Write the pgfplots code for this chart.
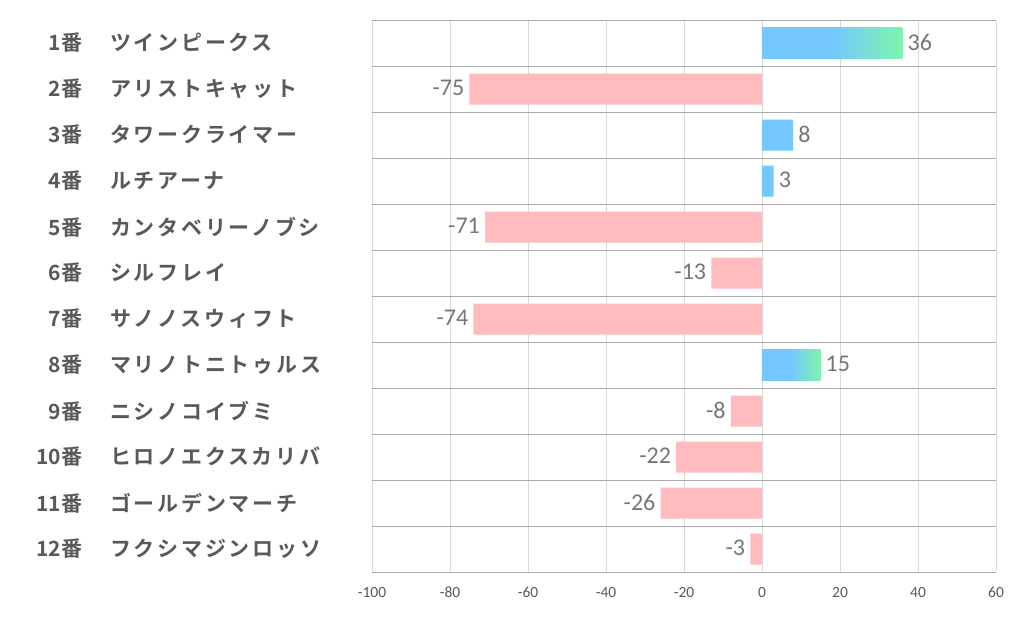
\documentclass[border=0pt]{standalone}
\usepackage{pgfplots}
\pgfplotsset{compat=1.18}
\usepackage{fontspec}
\setmainfont{Carlito}
\newfontfamily\jpnum{Noto Sans CJK JP}[BoldFont={* Bold}]
\newfontfamily\jpname{Noto Sans CJK JP}[BoldFont={* Bold}, LetterSpace=13]
\definecolor{barblue}{RGB}{117,200,255}
\definecolor{bargreen}{RGB}{125,245,172}
\definecolor{barpink}{RGB}{255,187,190}
\definecolor{labgray}{RGB}{89,89,89}
\definecolor{valgray}{RGB}{118,118,118}
\definecolor{vgrid}{RGB}{217,217,217}
\definecolor{hgrid}{RGB}{170,170,170}
\pgfdeclarehorizontalshading{bluegreen}{100bp}{color(0bp)=(barblue); color(50bp)=(barblue); color(75bp)=(bargreen); color(100bp)=(bargreen)}
\newcommand{\lab}[2]{\makebox[60bp][r]{\jpnum\bfseries #1番}\hspace{28bp}{\jpname\bfseries #2}}
\begin{document}
\begin{tikzpicture}
\path[use as bounding box] (-372bp,-54bp) rectangle (650bp,572bp);
\begin{axis}[
 scale only axis, width=624bp, height=552bp,
 at={(0,0)}, anchor=south west,
 xmin=-100, xmax=60, ymin=0.5, ymax=12.5, y dir=reverse,
 xtick={-100,-80,...,60},
 ytick={1,...,12},
 yticklabels={{\lab{1}{ツインピークス}},{\lab{2}{アリストキャット}},{\lab{3}{タワークライマー}},{\lab{4}{ルチアーナ}},{\lab{5}{カンタベリーノブシ}},{\lab{6}{シルフレイ}},{\lab{7}{サノノスウィフト}},{\lab{8}{マリノトニトゥルス}},{\lab{9}{ニシノコイブミ}},{\lab{10}{ヒロノエクスカリバ}},{\lab{11}{ゴールデンマーチ}},{\lab{12}{フクシマジンロッソ}}},
 minor ytick={0.5,1.5,...,12.5},
 xmajorgrids, yminorgrids,
 major grid style={vgrid, line width=0.75bp},
 minor grid style={hgrid, line width=0.75bp},
 axis line style={draw=none},
 major tick length=0pt, minor tick length=0pt,
 tick style={draw=none},
 /pgf/number format/assume math mode=true,
 xticklabel style={font=\fontsize{15.5bp}{18bp}\selectfont, text=labgray, anchor=base, yshift=-25bp},
 yticklabel style={anchor=west, inner sep=0pt, xshift=-350bp, font=\fontsize{21bp}{25bp}\selectfont, text=labgray},
 xbar, bar width=31bp, bar shift=0pt,
 nodes near coords, nodes near coords align=horizontal,
 every node near coord/.append style={font=\fontsize{24bp}{28bp}\selectfont, text=valgray, inner sep=5bp, yshift=1bp},
 ]
\addplot[draw=none, shading=bluegreen] coordinates {(36,1)};
\addplot[draw=none, shading=bluegreen] coordinates {(15,8)};
\addplot[draw=none, fill=barblue] coordinates {(8,3) (3,4)};
\addplot[draw=none, fill=barpink] coordinates {(-75,2) (-71,5) (-13,6) (-74,7) (-8,9) (-22,10) (-26,11) (-3,12)};
\end{axis}
\end{tikzpicture}
\end{document}
